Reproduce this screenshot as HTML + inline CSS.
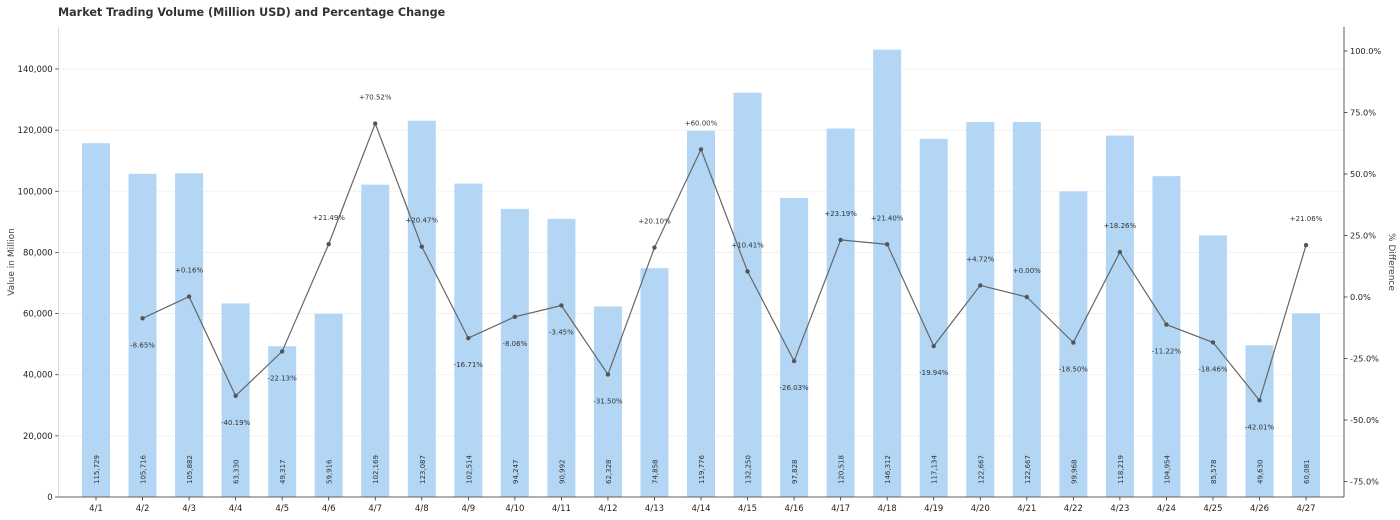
<!DOCTYPE html>
<html><head><meta charset="utf-8"><style>
html,body{margin:0;padding:0;background:#fff;}
svg{display:block;font-family:"DejaVu Sans","Liberation Sans",sans-serif;}
</style></head><body>
<svg id="c" width="1400" height="520" viewBox="0 0 1400 520" xmlns="http://www.w3.org/2000/svg"></svg>
<script>
const vals=[115729,105716,105882,63330,49317,59916,102169,123087,102514,94247,90992,62328,74858,119776,132250,97828,120518,146312,117134,122667,122667,99968,118219,104954,85578,49630,60081];
const pct=[null,-8.65,0.16,-40.19,-22.13,21.49,70.52,20.47,-16.71,-8.06,-3.45,-31.50,20.10,60.00,10.41,-26.03,23.19,21.40,-19.94,4.72,0.00,-18.50,18.26,-11.22,-18.46,-42.01,21.06];
const L=58.7,R=1344,T=27,B=497;
const yv=v=>B-v*428/140000, yp=p=>297-p*2.46, xc=i=>96+i*46.54;
let s='';
s+=`<text x="58" y="16" font-size="11.2" font-weight="bold" fill="#333">Market Trading Volume (Million USD) and Percentage Change</text>`;
for(let k=0;k<=7;k++){const y=yv(k*20000);
 s+=`<line x1="${L}" x2="${R}" y1="${y}" y2="${y}" stroke="#e6e6e6" stroke-width="0.8" stroke-dasharray="${k?'2,1':''}"/>`;
 s+=`<line x1="${L-3.5}" x2="${L}" y1="${y}" y2="${y}" stroke="#333" stroke-width="0.8"/>`;
 s+=`<text x="${L-6}" y="${y+3}" font-size="8.5" text-anchor="end" fill="#222">${(k*20000).toLocaleString('en-US')}</text>`;}
vals.forEach((v,i)=>{const x=xc(i),y=yv(v);
 s+=`<rect x="${x-14}" y="${y}" width="28" height="${B-y}" fill="#b3d6f5"/>`;
 s+=`<text transform="translate(${x+3},484) rotate(-90)" font-size="7" fill="#333">${v.toLocaleString('en-US')}</text>`;
 s+=`<line x1="${x}" x2="${x}" y1="${B}" y2="${B+3.5}" stroke="#333" stroke-width="0.8"/>`;
 s+=`<text x="${x}" y="${B+14}" font-size="8.5" text-anchor="middle" fill="#222">4/${i+1}</text>`;});
let pts=[];pct.forEach((p,i)=>{if(p!==null)pts.push([xc(i),yp(p),p]);});
s+=`<polyline points="${pts.map(p=>p[0]+','+p[1]).join(' ')}" fill="none" stroke="#666" stroke-width="1.2"/>`;
pts.forEach(([x,y,p])=>{s+=`<circle cx="${x}" cy="${y}" r="2.2" fill="#555"/>`;
 const t=(p>=0?'+':'')+p.toFixed(2)+'%';
 s+=`<text x="${x}" y="${p>=0?y-24:y+29}" font-size="7" text-anchor="middle" fill="#333">${t}</text>`;});
s+=`<line x1="${L}" x2="${L}" y1="${T}" y2="${B}" stroke="#ccc" stroke-width="0.8"/>`;
s+=`<line x1="${L}" x2="${R}" y1="${B}" y2="${B}" stroke="#333" stroke-width="0.8"/>`;
s+=`<line x1="${R}" x2="${R}" y1="${T}" y2="${B}" stroke="#333" stroke-width="0.8"/>`;
for(let p=-75;p<=100;p+=25){const y=yp(p);
 s+=`<line x1="${R}" x2="${R+3.5}" y1="${y}" y2="${y}" stroke="#333" stroke-width="0.8"/>`;
 s+=`<text x="${R+6}" y="${y+3}" font-size="8.2" fill="#222">${p.toFixed(1)}%</text>`;}
s+=`<text transform="translate(14,262) rotate(-90)" font-size="9" text-anchor="middle" fill="#444">Value in Million</text>`;
s+=`<text transform="translate(1389,262) rotate(90)" font-size="9" text-anchor="middle" fill="#444">% Difference</text>`;
document.getElementById('c').innerHTML=s;
</script>
</body></html>
